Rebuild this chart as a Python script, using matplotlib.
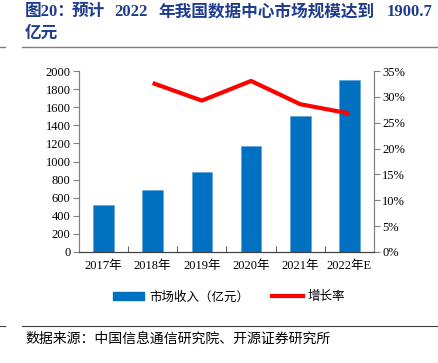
import matplotlib
matplotlib.use('Agg')
import matplotlib.pyplot as plt
import numpy as np
from matplotlib.lines import Line2D
from matplotlib.patches import Patch

plt.rcParams['font.family'] = ['Liberation Serif', 'Noto Sans CJK SC']

# 数据
years = ['2017年', '2018年', '2019年', '2020年', '2021年', '2022年E']
revenue = [521, 690, 888, 1170, 1504, 1900.7]
growth_years = [1, 2, 3, 4, 5]
growth = [32.7, 29.3, 33.1, 28.6, 26.8]

# 标题分段 (文字, 左侧像素位置)
title_parts = [('图20：', 25), ('预计', 72), ('2022', 114),
               ('年我国数据中心市场规模达到', 158), ('1900.7', 387)]
title2 = '亿元'
source = '数据来源：中国信息通信研究院、开源证券研究所'

W, H = 438, 363
fig = plt.figure(figsize=(W / 100, H / 100), dpi=100)
ax = fig.add_axes([0.180, 0.306, 0.674, 0.498])
ax2 = ax.twinx()

x = np.arange(len(years))
ax.bar(x, revenue, width=0.42, color='#0070C0', edgecolor='#5B9BD5', linewidth=0.4, zorder=2)
ax.set_xlim(-0.5, len(years) - 0.5)
ax.set_ylim(0, 2000)
ax.set_yticks(np.arange(0, 2001, 200))
ax.set_xticks(x)
ax.set_xticklabels(years, fontsize=9)
ax.set_xticks(np.arange(-0.5, len(years), 1), minor=True)
ax.tick_params(axis='x', which='major', length=0, pad=6)
ax.tick_params(axis='x', which='minor', length=4, direction='in', color='#404040')
ax.tick_params(axis='y', labelsize=9, length=4, direction='out', color='#808080', pad=2)

ax2.plot(growth_years, growth, color='#FF0000', linewidth=3, solid_capstyle='butt', zorder=3)
ax2.set_ylim(0, 35)
ax2.set_yticks(np.arange(0, 36, 5))
ax2.set_yticklabels([f'{v}%' for v in range(0, 36, 5)])
ax2.tick_params(axis='y', labelsize=9, length=4, direction='out', color='#808080', pad=2)

for a in (ax, ax2):
    a.spines['top'].set_visible(False)
    a.spines['left'].set_color('#808080')
    a.spines['right'].set_color('#808080')
    a.spines['bottom'].set_color('#404040')

handles = [Patch(facecolor='#0070C0', edgecolor='#0070C0'),
           Line2D([0], [0], color='#FF0000', linewidth=3)]
fig.legend(handles, ['市场收入（亿元）', '增长率'], loc='center', bbox_to_anchor=(0.523, 0.182),
           ncol=2, frameon=False, handlelength=2.5, handleheight=0.6,
           columnspacing=1.8, handletextpad=0.4,
           prop={'family': ['Noto Sans CJK SC'], 'size': 9})

for txt, px in title_parts:
    fig.text(px / W, 0.967, txt, fontsize=12, fontweight='bold', color='#1F3D8C',
             family=['Liberation Serif', 'Noto Sans CJK SC'], va='center', ha='left')
fig.text(25 / W, 0.909, title2, fontsize=12, fontweight='bold', color='#1F3D8C',
         family=['Noto Sans CJK SC'], va='center', ha='left')
fig.add_artist(Line2D([0.05, 1.0], [0.870, 0.870], color='#808080', linewidth=1))
fig.add_artist(Line2D([0.0, 0.012], [0.870, 0.870], color='#808080', linewidth=1))
fig.add_artist(Line2D([0.05, 1.0], [0.102, 0.102], color='#404040', linewidth=0.8))
fig.add_artist(Line2D([0.0, 0.012], [0.102, 0.102], color='#404040', linewidth=0.8))
fig.text(25 / W, 0.066, source, fontsize=10, family=['Noto Sans CJK SC'], va='center', ha='left')

fig.savefig('out.png', dpi=100)
